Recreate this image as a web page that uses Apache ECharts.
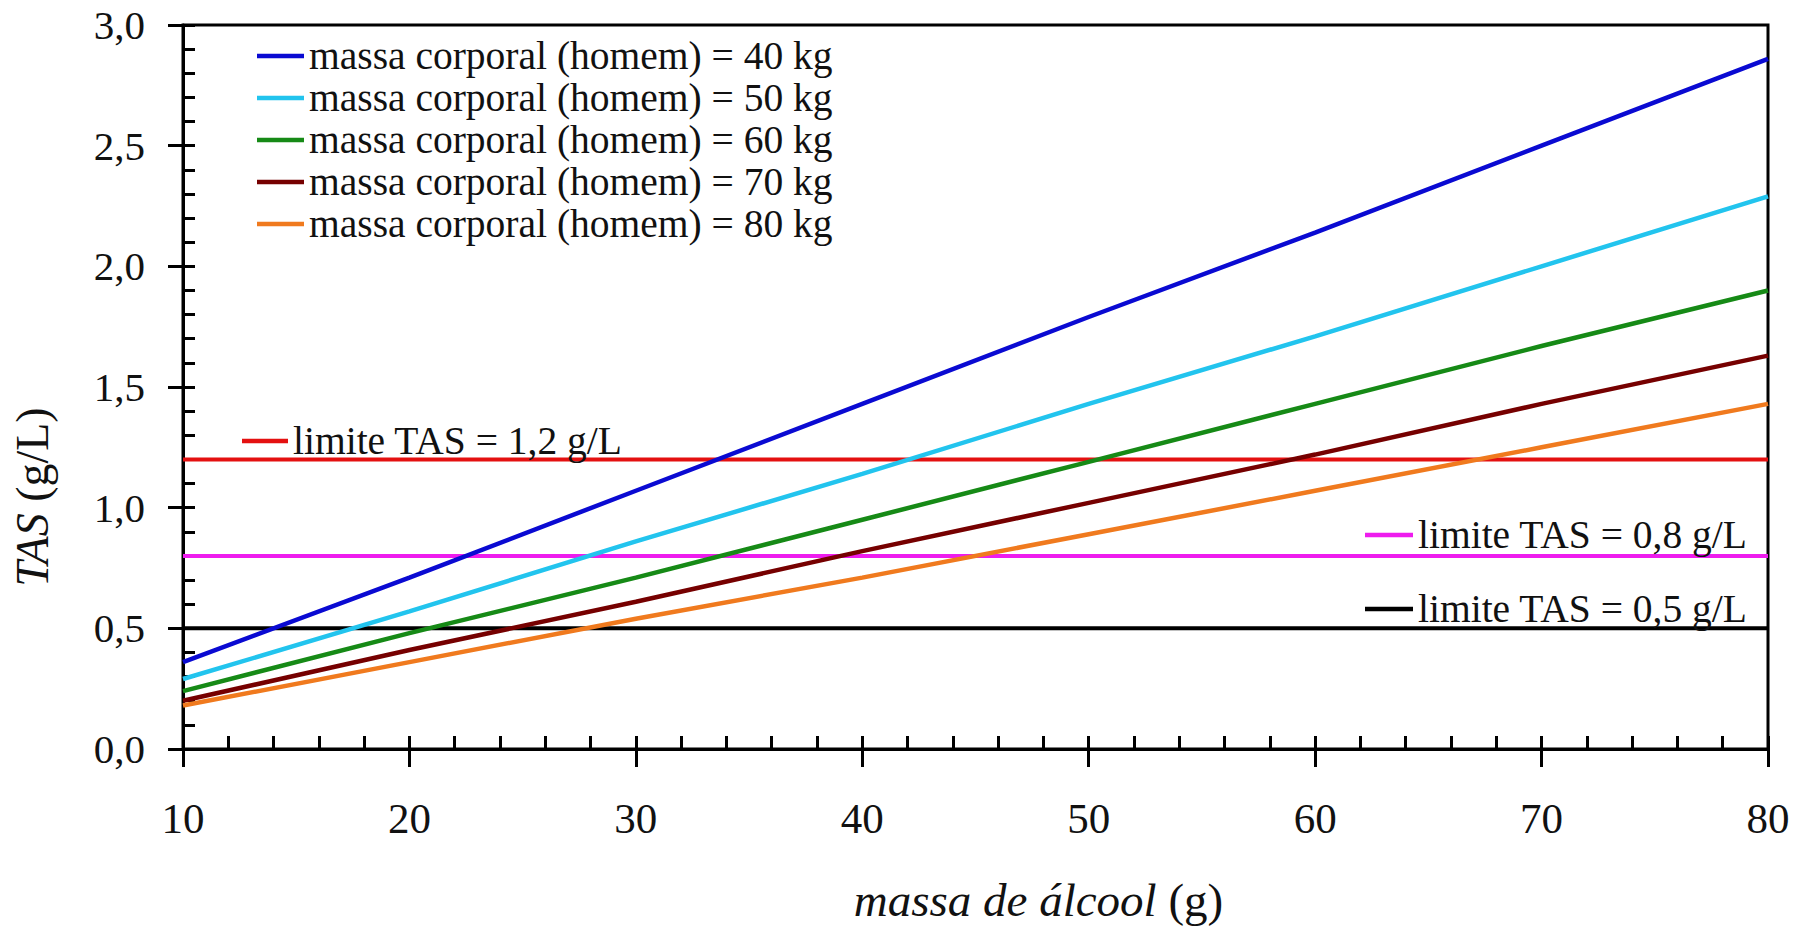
<!DOCTYPE html>
<html>
<head>
<meta charset="utf-8">
<script src="https://cdn.jsdelivr.net/npm/echarts@6/dist/echarts.min.js"></script>
<style>
html,body{margin:0;padding:0;background:#fff;}
#chart{width:1793px;height:928px;}
</style>
</head>
<body>
<div id="chart"></div>
<script>
// ---- data ----
const alcohol = [10, 20, 30, 40, 50, 60, 70, 80];           // massa de álcool (g)
const tas40 = [0.36, 0.71, 1.07, 1.43, 1.79, 2.14, 2.50, 2.86];
const tas50 = [0.29, 0.57, 0.86, 1.14, 1.43, 1.71, 2.00, 2.29];
const tas60 = [0.24, 0.48, 0.71, 0.95, 1.19, 1.43, 1.67, 1.90];
const tas70 = [0.20, 0.41, 0.61, 0.82, 1.02, 1.22, 1.43, 1.63];
const tas80 = [0.18, 0.36, 0.54, 0.71, 0.89, 1.07, 1.25, 1.43];
const massNames = [
  'massa corporal (homem) = 40 kg',
  'massa corporal (homem) = 50 kg',
  'massa corporal (homem) = 60 kg',
  'massa corporal (homem) = 70 kg',
  'massa corporal (homem) = 80 kg'
];
const limitValues = [1.2, 0.8, 0.5];
const limitNames = ['limite TAS = 1,2 g/L', 'limite TAS = 0,8 g/L', 'limite TAS = 0,5 g/L'];
const xRange = [10, 80];
const yRange = [0, 3];

// ---- styles ----
const FONT = '"Liberation Serif", "Times New Roman", serif';
const massColors = ['#0a0ad2', '#22c4ee', '#168a16', '#760000', '#f07a1e'];
const limitColors = ['#e41010', '#ee1cee', '#000000'];
const massSeriesData = [tas40, tas50, tas60, tas70, tas80];

const series = [];
massSeriesData.forEach((vals, i) => {
  series.push({
    name: massNames[i],
    type: 'line',
    xAxisIndex: 0, yAxisIndex: 0,
    data: alcohol.map((x, j) => [x, vals[j]]),
    showSymbol: false,
    symbol: 'none',
    lineStyle: { color: massColors[i], width: 4.5 },
    itemStyle: { color: massColors[i] },
    z: 3,
    silent: true
  });
});
limitValues.forEach((v, i) => {
  series.push({
    name: limitNames[i],
    type: 'line',
    xAxisIndex: 0, yAxisIndex: 0,
    data: xRange.map(x => [x, v]),
    showSymbol: false,
    symbol: 'none',
    lineStyle: { color: limitColors[i], width: 4 },
    itemStyle: { color: limitColors[i] },
    z: 2,
    silent: true
  });
});

const legendText = { fontFamily: FONT, fontSize: 39.5, color: '#111', lineHeight: 40 };

const option = {
  backgroundColor: '#ffffff',
  animation: false,
  grid: {
    left: 183, right: 25, top: 25, bottom: 173,
    show: true, borderColor: '#000', borderWidth: 3, backgroundColor: 'transparent'
  },
  legend: [
    {
      data: massNames, orient: 'vertical', left: 252, top: 31,
      icon: 'rect', itemWidth: 47, itemHeight: 4.5, itemGap: 2,
      textStyle: legendText, selectedMode: false
    },
    {
      data: [limitNames[0]], orient: 'vertical', left: 237, top: 416,
      icon: 'rect', itemWidth: 46, itemHeight: 4.5,
      textStyle: legendText, selectedMode: false
    },
    {
      data: [limitNames[1], limitNames[2]], orient: 'vertical', left: 1360, top: 510,
      icon: 'rect', itemWidth: 48, itemHeight: 4.5, itemGap: 34,
      textStyle: legendText, selectedMode: false
    }
  ],
  xAxis: [
    {
      type: 'value', min: xRange[0], max: xRange[1], interval: 10,
      position: 'bottom',
      axisLine: { onZero: false, lineStyle: { color: '#000', width: 3 } },
      axisTick: { show: true, inside: false, length: 18, lineStyle: { color: '#000', width: 3 } },
      axisLabel: { fontFamily: FONT, fontSize: 43, color: '#111', margin: 48 },
      splitLine: { show: false },
      name: '{i|massa de álcool} (g)',
      nameLocation: 'middle', nameGap: 127,
      nameTextStyle: {
        fontFamily: FONT, fontSize: 47, color: '#111', padding: [0, 0, 0, 126],
        rich: { i: { fontFamily: FONT, fontSize: 47, fontStyle: 'italic', color: '#111' } }
      }
    },
    {
      type: 'value', min: xRange[0], max: xRange[1], interval: 2,
      position: 'bottom',
      axisLine: { show: false, onZero: false },
      axisTick: { show: true, inside: true, length: 13, lineStyle: { color: '#000', width: 3 } },
      axisLabel: { show: false },
      splitLine: { show: false }
    }
  ],
  yAxis: [
    {
      type: 'value', min: yRange[0], max: yRange[1], interval: 0.5,
      position: 'left',
      axisLine: { onZero: false, lineStyle: { color: '#000', width: 3 } },
      axisTick: { show: true, inside: false, length: 15, lineStyle: { color: '#000', width: 3 } },
      axisLabel: {
        fontFamily: FONT, fontSize: 41, color: '#111', margin: 38,
        formatter: v => v.toFixed(1).replace('.', ',')
      },
      splitLine: { show: false },
      name: '{i|TAS} (g/L)',
      nameLocation: 'middle', nameGap: 128, nameRotate: 90,
      nameTextStyle: {
        fontFamily: FONT, fontSize: 46, color: '#111', padding: [0, 220, 0, 0],
        rich: { i: { fontFamily: FONT, fontSize: 46, fontStyle: 'italic', color: '#111' } }
      }
    },
    {
      type: 'value', min: yRange[0], max: yRange[1], interval: 0.1,
      position: 'left',
      axisLine: { show: false, onZero: false },
      axisTick: { show: true, inside: true, length: 12, lineStyle: { color: '#000', width: 3 } },
      axisLabel: { show: false },
      splitLine: { show: false }
    }
  ],
  series: series
};

const chart = echarts.init(document.getElementById('chart'), null, { renderer: 'svg' });
chart.setOption(option);
</script>
</body>
</html>
